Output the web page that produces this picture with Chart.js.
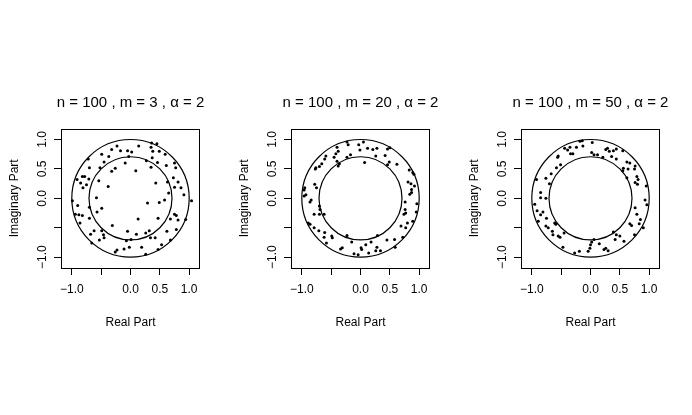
<!DOCTYPE html>
<html>
<head>
<meta charset="utf-8">
<script src="https://cdn.jsdelivr.net/npm/chart.js@4/dist/chart.umd.min.js"></script>
<style>
  body { margin: 0; background: #fff; }
  #wrap { position: relative; width: 692px; height: 415px; background: #fff; }
  canvas { position: absolute; top: 0; }
</style>
</head>
<body>
<div id="wrap">
  <canvas id="panel1" width="231" height="415" style="left:0px"></canvas>
  <canvas id="panel2" width="231" height="415" style="left:230px"></canvas>
  <canvas id="panel3" width="231" height="415" style="left:460px"></canvas>
</div>
<script>
// eigenvalues, real and imaginary parts
const re1 = [-0.23,-0.32,0.14,0.36,0.45,0.35,-0.17,-0.05,0.02,0.38,
  0.49,0.59,-0.49,-0.37,-0.03,0.37,0.27,0.46,-0.72,-0.45,
  -0.52,-0.26,-0.09,0.35,0.61,0.75,0.77,-0.70,-0.32,0.09,
  0.73,-0.82,-0.78,-0.71,-0.91,-0.85,-0.75,-0.54,-0.38,0.43,
  0.63,0.81,0.75,0.86,-0.81,0.91,0.65,0.58,0.49,0.29,
  1.04,-0.99,-0.58,-0.90,-0.49,-0.57,-0.70,-0.94,-0.88,-0.82,
  -0.86,-0.70,0.13,0.47,0.68,0.75,0.78,0.81,0.94,-0.62,
  -0.68,-0.49,-0.46,-0.31,-0.05,0.10,0.26,0.32,0.62,0.78,
  0.34,0.42,-0.45,-0.53,-0.66,-0.07,0.01,0.68,0.53,0.47,
  0.19,0.26,-0.02,-0.11,-0.26,-0.23];
const im1 = [0.89,0.83,0.89,0.94,0.93,0.87,0.81,0.81,0.79,0.80,
  0.80,0.75,0.75,0.71,0.71,0.69,0.64,0.61,0.67,0.62,
  0.52,0.51,0.60,0.53,0.56,0.60,0.52,0.52,0.46,0.47,
  0.35,0.37,0.37,0.33,0.32,0.26,0.23,0.30,0.20,0.26,
  0.28,0.28,0.19,0.18,0.18,0.06,0.09,-0.03,-0.07,-0.08,
  -0.04,-0.04,0.01,-0.12,-0.17,-0.23,-0.15,-0.27,-0.28,-0.29,
  -0.42,-0.34,-0.35,-0.34,-0.35,-0.27,-0.29,-0.37,-0.36,-0.55,
  -0.61,-0.55,-0.62,-0.46,-0.56,-0.61,-0.59,-0.55,-0.56,-0.53,
  -0.67,-0.67,-0.67,-0.71,-0.76,-0.72,-0.70,-0.71,-0.79,-0.87,
  -0.83,-0.95,-0.83,-0.86,-0.91,-0.88];

const re2 = [-0.23,-0.21,0.05,-0.03,-0.01,0.12,0.21,0.28,0.46,0.50,
  -0.40,-0.38,-0.42,-0.17,-0.23,0.42,0.26,-0.59,-0.61,-0.45,
  -0.40,-0.36,-0.38,0.07,-0.76,-0.70,-0.77,-0.66,0.49,0.46,
  0.62,0.83,0.89,0.91,0.81,0.86,0.92,0.87,0.84,0.87,
  0.76,0.96,0.76,0.95,0.77,0.74,0.89,0.80,0.69,0.77,
  0.72,-0.78,-0.75,-0.95,-0.96,-0.93,-0.96,-0.84,-0.86,-0.70,
  -0.69,-0.79,-0.70,-0.62,-0.89,-0.86,-0.79,-0.71,-0.61,-0.62,
  -0.49,-0.58,-0.48,-0.34,-0.31,-0.23,-0.15,-0.11,-0.04,0.01,
  0.02,0.09,0.18,0.14,0.26,0.28,0.34,0.29,0.45,0.58,0.59];
const im2 = [0.96,0.91,0.96,0.91,0.82,0.85,0.83,0.85,0.84,0.86,
  0.87,0.80,0.76,0.74,0.70,0.73,0.72,0.72,0.67,0.70,
  0.63,0.59,0.55,0.61,0.52,0.54,0.50,0.59,0.62,0.57,
  0.58,0.48,0.44,0.41,0.28,0.25,0.21,0.15,0.07,0.10,
  -0.06,-0.09,-0.19,-0.23,-0.25,-0.27,-0.39,-0.42,-0.47,-0.50,
  -0.66,0.24,0.18,0.18,0.14,0.06,0.04,-0.03,-0.06,-0.13,
  -0.19,-0.27,-0.27,-0.27,-0.42,-0.44,-0.50,-0.55,-0.58,-0.66,
  -0.64,-0.76,-0.67,-0.86,-0.84,-0.63,-0.74,-0.94,-0.96,-0.84,
  -0.87,-0.79,-0.74,-0.93,-0.89,-0.83,-0.89,-0.63,-0.71,-0.70,-0.83];

const re3 = [-0.18,-0.14,0.03,-0.13,-0.24,-0.35,-0.44,-0.39,-0.55,-0.56,
  -0.30,-0.34,0.02,0.06,0.12,0.26,0.29,0.32,0.39,0.44,
  0.36,0.44,0.21,0.55,0.62,0.67,0.76,0.75,0.64,0.56,
  0.55,0.79,0.81,0.76,0.80,0.95,0.62,0.93,0.96,0.76,
  0.79,0.67,0.70,0.85,0.83,0.90,0.75,0.57,-0.51,-0.58,
  -0.67,-0.70,-0.76,-0.92,-0.85,-0.85,-0.76,-0.95,-0.91,-0.81,
  -0.85,-0.75,-0.89,-0.76,-0.72,-0.65,-0.64,-0.55,-0.52,-0.61,
  -0.59,-0.45,-0.47,-0.27,-0.19,-0.04,-0.01,0.00,0.02,0.06,
  0.15,0.23,0.26,0.30,0.39,0.44,0.42,0.50];
const im3 = [0.97,0.98,0.95,0.89,0.87,0.87,0.85,0.82,0.72,0.70,
  0.76,0.76,0.78,0.74,0.74,0.83,0.85,0.80,0.81,0.84,
  0.71,0.67,0.70,0.81,0.62,0.60,0.55,0.50,0.50,0.51,
  0.47,0.37,0.32,0.27,0.24,0.21,0.35,-0.03,-0.11,-0.16,
  -0.27,-0.43,-0.46,-0.36,-0.43,-0.50,-0.62,-0.73,0.57,0.52,
  0.42,0.25,0.34,0.32,0.10,0.01,0.00,-0.10,-0.21,-0.23,
  -0.28,-0.34,-0.39,-0.47,-0.50,-0.56,-0.62,-0.64,-0.66,-0.42,
  -0.44,-0.59,-0.83,-0.93,-0.90,-0.90,-0.85,-0.79,-0.74,-0.70,
  -0.77,-0.87,-0.85,-0.89,-0.57,-0.62,-0.70,-0.64];

const panelTitles = ["n = 100 , m = 3 , \u03b1 = 2", "n = 100 , m = 20 , \u03b1 = 2", "n = 100 , m = 50 , \u03b1 = 2"];
const tickValues = [-1, -0.5, 0, 0.5, 1];
const tickLabels = ["\u22121.0", "", "0.0", "0.5", "1.0"];
const ringRadii = [1, 0.707];
const axisLimit = 1.184;

const FONT = "'Liberation Sans', Arial, Helvetica, sans-serif";
Chart.defaults.font.family = FONT;
Chart.defaults.color = "#000";

// outer box, the two reference circles and the panel heading
const ringsPlugin = {
  id: "rings",
  afterDatasetsDraw(chart, args, opts) {
    const {ctx, chartArea: a, scales: {x, y}} = chart;
    const cx = x.getPixelForValue(0);
    const cy = y.getPixelForValue(0);
    ctx.save();
    ctx.strokeStyle = "#000";
    ctx.lineWidth = 1.2;
    for (const r of ringRadii) {
      ctx.beginPath();
      ctx.ellipse(cx, cy, x.getPixelForValue(r) - cx, cy - y.getPixelForValue(r), 0, 0, 2 * Math.PI);
      ctx.stroke();
    }
    ctx.lineWidth = 1;
    ctx.strokeRect(Math.round(a.left) + 0.5, Math.round(a.top) + 0.5,
      Math.round(a.right) - Math.round(a.left) - 1, Math.round(a.bottom) - Math.round(a.top));

    // heading centred over the plot box, wider than the box itself
    ctx.fillStyle = "#000";
    ctx.font = "15px " + FONT;
    ctx.textAlign = "center";
    ctx.textBaseline = "middle";
    ctx.fillText(opts.text, (a.left + a.right) / 2, 103);
    ctx.restore();
  }
};

function scaleOptions(title, isX) {
  return {
    type: "linear",
    min: -axisLimit,
    max: axisLimit,
    afterBuildTicks: (s) => { s.ticks = tickValues.map((value) => ({value})); },
    afterFit: (s) => { if (isX) s.height = 147; else s.width = 61; },
    ticks: {
      autoSkip: false,
      color: "#000",
      font: {size: 12},
      padding: isX ? 7.8 : -1,
      minRotation: isX ? 0 : 90,
      maxRotation: isX ? 0 : 90,
      crossAlign: isX ? "near" : "center",
      callback: (value, index) => tickLabels[index],
    },
    grid: {drawOnChartArea: false, drawTicks: true, tickLength: 7, color: "#000", lineWidth: 1},
    border: {display: false},
    title: {
      display: true,
      text: title,
      color: "#000",
      font: {size: 12},
      padding: isX ? {top: 0, bottom: 85.3} : {top: 7.1, bottom: 0},
    },
  };
}

function plotPanel(id, title, re, im) {
  const ctx = document.getElementById(id);
  new Chart(ctx, {
    type: "scatter",
    data: {
      datasets: [{
        data: re.map((x, i) => ({x, y: im[i]})),
        pointRadius: 1.5,
        pointBackgroundColor: "#000",
        pointBorderWidth: 0,
      }],
    },
    options: {
      responsive: false,
      animation: false,
      devicePixelRatio: 1,
      layout: {padding: {left: 0, right: 31, top: 128.7, bottom: 0}},
      plugins: {
        legend: {display: false},
        tooltip: {enabled: false},
        title: {display: false},
        rings: {text: title},
      },
      scales: {
        x: scaleOptions("Real Part", true),
        y: scaleOptions("Imaginary Part", false),
      },
    },
    plugins: [ringsPlugin],
  });
}

plotPanel("panel1", panelTitles[0], re1, im1);
plotPanel("panel2", panelTitles[1], re2, im2);
plotPanel("panel3", panelTitles[2], re3, im3);
</script>
</body>
</html>
